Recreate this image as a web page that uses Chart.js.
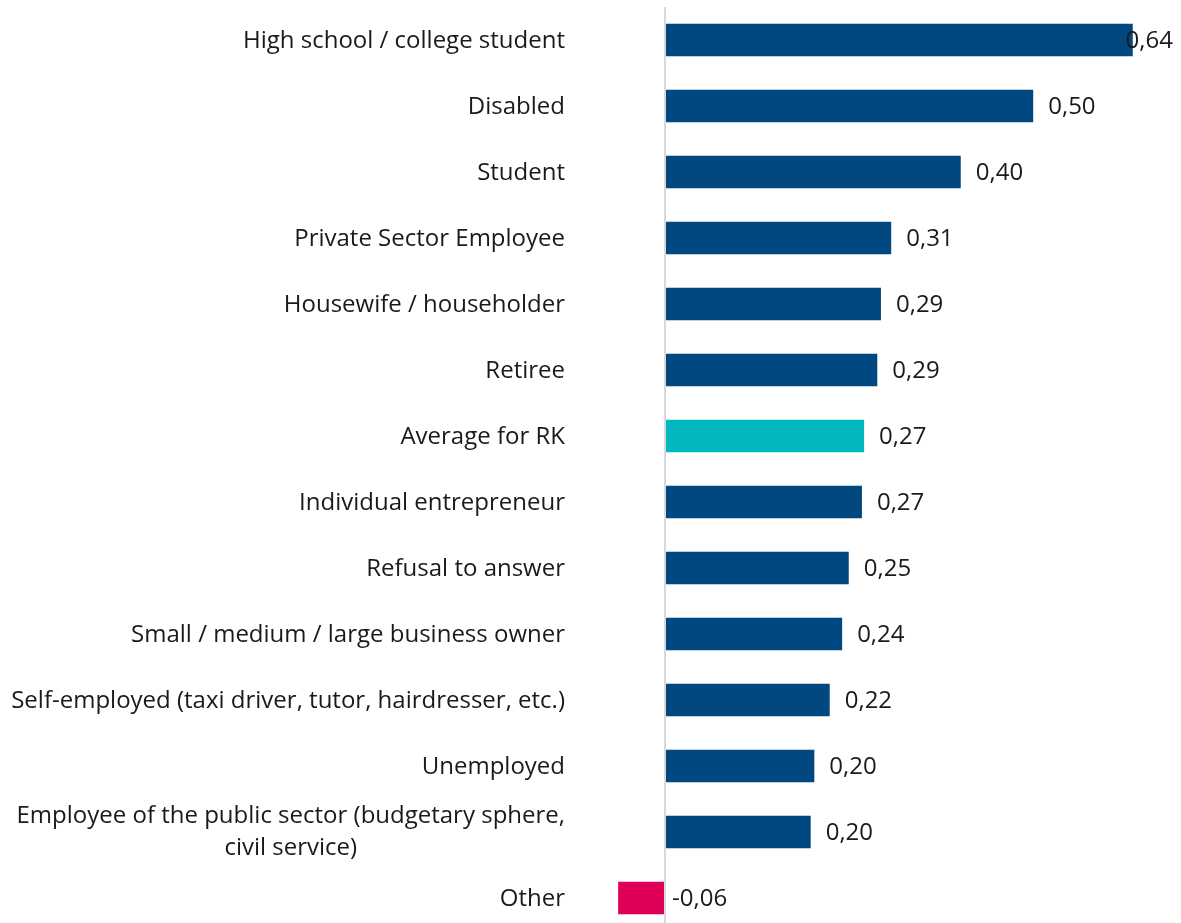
<!DOCTYPE html>
<html>
<head>
<meta charset="utf-8">
<script src="https://cdn.jsdelivr.net/npm/chart.js@4/dist/chart.umd.min.js"></script>
<style>
  html, body { margin: 0; padding: 0; background: #fff; overflow: hidden; }
  #wrap { position: relative; width: 1181px; height: 931px; }
</style>
</head>
<body>
<div id="wrap"><canvas id="c"></canvas></div>
<script>
const categories = [
  "High school / college student",
  "Disabled",
  "Student",
  "Private Sector Employee",
  "Housewife / householder",
  "Retiree",
  "Average for RK",
  "Individual entrepreneur",
  "Refusal to answer",
  "Small / medium / large business owner",
  "Self-employed (taxi driver, tutor, hairdresser, etc.)",
  "Unemployed",
  ["Employee of the public sector (budgetary sphere,", "civil service)"],
  "Other"
];
const values = [0.639, 0.503, 0.404, 0.309, 0.295, 0.290, 0.272, 0.269, 0.251, 0.242, 0.225, 0.204, 0.199, -0.064];
const valueLabels = ["0,64", "0,50", "0,40", "0,31", "0,29", "0,29", "0,27", "0,27", "0,25", "0,24", "0,22", "0,20", "0,20", "-0,06"];

const NAVY = "#00487F";
const TEAL = "#00B8BE";
const PINK = "#DE0059";
const FONT = "'Open Sans', 'Noto Sans', sans-serif";
const FS = 24;

function barColor(i) {
  if (values[i] < 0) return PINK;
  if (categories[i] === "Average for RK") return TEAL;
  return NAVY;
}

const labelPlugin = {
  id: 'labels',
  afterDatasetsDraw(chart) {
    const ctx = chart.ctx;
    const yScale = chart.scales.y;
    const xScale = chart.scales.x;
    const meta = chart.getDatasetMeta(0);
    ctx.save();
    ctx.font = FS + "px " + FONT;
    ctx.fillStyle = "#1a1a1a";
    ctx.textBaseline = "middle";
    // category labels
    const rightEdge = yScale.right - 35;
    categories.forEach((cat, i) => {
      const y = yScale.getPixelForTick(i);
      if (Array.isArray(cat)) {
        const widths = cat.map(l => ctx.measureText(l).width);
        const maxW = Math.max(...widths);
        const cx = rightEdge - maxW / 2;
        const lh = 32;
        ctx.textAlign = "center";
        cat.forEach((line, k) => {
          ctx.fillText(line, cx, y + (k - (cat.length - 1) / 2) * lh);
        });
      } else {
        ctx.textAlign = "right";
        ctx.fillText(cat, rightEdge, y + 1);
      }
    });
    // value labels
    ctx.textAlign = "left";
    const zero = xScale.getPixelForValue(0);
    meta.data.forEach((bar, i) => {
      const txt = valueLabels[i];
      const w = ctx.measureText(txt).width;
      let x = values[i] >= 0 ? bar.x + 15 : zero + 7;
      if (x + w > chart.width - 8) x = chart.width - 8 - w;
      ctx.fillText(txt, x, bar.y + 1);
    });
    ctx.restore();
  }
};

new Chart(document.getElementById('c'), {
  type: 'bar',
  data: {
    labels: categories,
    datasets: [{
      data: values,
      backgroundColor: categories.map((c, i) => barColor(i)),
      borderWidth: 0,
      categoryPercentage: 1,
      barPercentage: 0.49
    }]
  },
  options: {
    indexAxis: 'y',
    responsive: true,
    maintainAspectRatio: false,
    animation: false,
    layout: { padding: { top: 7, right: 0, bottom: 0, left: 0 } },
    plugins: {
      legend: { display: false },
      tooltip: { enabled: false }
    },
    scales: {
      x: {
        min: -0.0888,
        max: 0.7049,
        afterBuildTicks(scale) { scale.ticks = [{ value: 0 }]; },
        ticks: { display: false },
        grid: { color: '#d9d9d9', lineWidth: 2, drawTicks: false },
        border: { display: false }
      },
      y: {
        afterFit(scale) { scale.width = 600; },
        ticks: { display: false },
        grid: { display: false, drawTicks: false },
        border: { display: false }
      }
    }
  },
  plugins: [labelPlugin]
});
</script>
</body>
</html>
